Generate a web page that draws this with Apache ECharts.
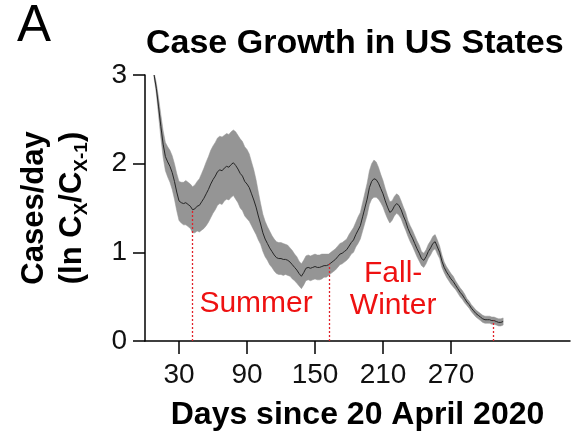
<!DOCTYPE html>
<html>
<head>
<meta charset="utf-8">
<script src="https://cdn.jsdelivr.net/npm/echarts@6/dist/echarts.min.js"></script>
<style>
  html, body { margin: 0; padding: 0; background: #fff; }
  #main { width: 575px; height: 437px; }
</style>
</head>
<body>
<div id="main"></div>
<script>
// days since 20 April 2020
var days = [8, 10, 12, 14, 16, 18, 20, 22, 24, 26, 28, 30, 32, 34, 36, 38, 40, 42, 44, 46, 48, 50,
  52, 54, 56, 58, 60, 62, 64, 66, 68, 70, 72, 74, 76, 78, 80, 82, 84, 86, 88, 90, 92, 94, 96, 98,
  100, 102, 104, 106, 108, 110, 112, 114, 116, 118, 120, 122, 124, 126, 128, 130, 132, 134, 136, 138,
  140, 142, 144, 146, 148, 150, 152, 154, 156, 158, 160, 162, 164, 166, 168, 170, 172, 174, 176, 178,
  180, 182, 184, 186, 188, 190, 192, 194, 196, 198, 200, 202, 204, 206, 208, 210, 212, 214, 216, 218,
  220, 222, 224, 226, 228, 230, 232, 234, 236, 238, 240, 242, 244, 246, 248, 250, 252, 254, 256, 258,
  260, 262, 264, 266, 268, 270, 272, 274, 276, 278, 280, 282, 284, 286, 288, 290, 292, 294, 296, 298,
  300, 302, 304, 306, 308, 310, 312, 314, 316];
// mean growth rate
var meanRate = [3.00, 2.85, 2.64, 2.42, 2.22, 2.08, 2.02, 1.97, 1.90, 1.80, 1.68, 1.58, 1.56, 1.55, 1.56, 1.54, 1.52, 1.48, 1.49, 1.52, 1.53, 1.57,
  1.61, 1.66, 1.71, 1.77, 1.82, 1.86, 1.91, 1.93, 1.92, 1.95, 1.97, 1.96, 1.99, 2.01, 1.98, 1.94, 1.89, 1.86, 1.80, 1.77, 1.73, 1.66, 1.59, 1.51,
  1.41, 1.32, 1.22, 1.15, 1.10, 1.05, 1.01, 0.97, 0.94, 0.93, 0.93, 0.92, 0.92, 0.91, 0.89, 0.86, 0.83, 0.80, 0.76, 0.73,
  0.77, 0.82, 0.83, 0.82, 0.83, 0.84, 0.83, 0.83, 0.84, 0.85, 0.85, 0.86, 0.88, 0.90, 0.92, 0.95, 0.98, 0.99, 1.01, 1.03,
  1.07, 1.11, 1.14, 1.20, 1.25, 1.30, 1.40, 1.50, 1.60, 1.73, 1.80, 1.83, 1.82, 1.78, 1.72, 1.66, 1.58, 1.51, 1.45, 1.47,
  1.52, 1.55, 1.53, 1.48, 1.41, 1.35, 1.27, 1.21, 1.16, 1.10, 1.04, 0.99, 0.93, 0.91, 0.95, 1.01, 1.05, 1.10, 1.12, 1.06,
  1.00, 0.90, 0.83, 0.78, 0.74, 0.70, 0.67, 0.63, 0.59, 0.55, 0.52, 0.48, 0.44, 0.41, 0.37, 0.34, 0.31, 0.29, 0.27, 0.25,
  0.24, 0.24, 0.24, 0.23, 0.23, 0.22, 0.21, 0.21, 0.22];
// half width of the shaded band
var spread = [0.03, 0.06, 0.10, 0.13, 0.15, 0.16, 0.17, 0.18, 0.19, 0.20, 0.21, 0.22, 0.23, 0.24, 0.25, 0.25, 0.25, 0.26, 0.27, 0.28, 0.30, 0.32,
  0.34, 0.36, 0.37, 0.38, 0.38, 0.38, 0.38, 0.38, 0.38, 0.37, 0.37, 0.37, 0.37, 0.37, 0.38, 0.38, 0.39, 0.39, 0.39, 0.39, 0.38, 0.36, 0.34, 0.31,
  0.27, 0.23, 0.21, 0.20, 0.19, 0.19, 0.18, 0.18, 0.18, 0.18, 0.18, 0.18, 0.17, 0.17, 0.16, 0.16, 0.15, 0.15, 0.14, 0.14,
  0.14, 0.14, 0.14, 0.14, 0.14, 0.14, 0.14, 0.14, 0.14, 0.13, 0.13, 0.12, 0.12, 0.12, 0.12, 0.12, 0.12, 0.12, 0.12, 0.12,
  0.13, 0.13, 0.14, 0.14, 0.15, 0.15, 0.16, 0.17, 0.18, 0.19, 0.20, 0.21, 0.20, 0.18, 0.16, 0.15, 0.14, 0.13, 0.12, 0.11,
  0.11, 0.11, 0.11, 0.10, 0.10, 0.10, 0.09, 0.09, 0.09, 0.09, 0.09, 0.09, 0.08, 0.08, 0.08, 0.08, 0.08, 0.08, 0.08, 0.08,
  0.07, 0.07, 0.06, 0.06, 0.06, 0.06, 0.06, 0.05, 0.05, 0.05, 0.05, 0.05, 0.04, 0.04, 0.04, 0.04, 0.04, 0.04, 0.04, 0.04,
  0.04, 0.04, 0.04, 0.04, 0.04, 0.04, 0.04, 0.04, 0.04];

var xTicks = [30, 90, 150, 210, 270];
// season boundaries (dotted red lines)
var seasonDays = [42, 163, 307];
var seasonTops = [1.48, 0.87, 0.23];
// season labels
var labelTexts = ['Summer', 'Fall-\nWinter'];
var labelDays = [98, 219];
var labelVals = [0.42, 0.575];

var myChart = echarts.init(document.getElementById('main'));

var bandData = [], meanData = [];
for (var i = 0; i < days.length; i++) {
  bandData.push([days[i], meanRate[i] - spread[i], meanRate[i] + spread[i]]);
  meanData.push([days[i], meanRate[i]]);
}
var markLines = [];
for (var j = 0; j < seasonDays.length; j++) {
  markLines.push([{ coord: [seasonDays[j], 0] }, { coord: [seasonDays[j], seasonTops[j]] }]);
}
var labelData = [];
for (var k = 0; k < labelTexts.length; k++) {
  labelData.push({ name: labelTexts[k], value: [labelDays[k], labelVals[k]] });
}

var font = 'Liberation Sans, Arial, sans-serif';

// band polygon: upper edge forward, lower edge back
function renderBand(params, api) {
  if (params.dataIndex !== 0) return;
  var pts = [];
  for (var a = 0; a < bandData.length; a++) {
    pts.push(api.coord([bandData[a][0], bandData[a][2]]));
  }
  for (var b = bandData.length - 1; b >= 0; b--) {
    pts.push(api.coord([bandData[b][0], bandData[b][1]]));
  }
  return {
    type: 'polygon',
    shape: { points: pts },
    style: { fill: '#959595', stroke: '#959595', lineWidth: 0.5 }
  };
}

option = {
  animation: false,
  backgroundColor: '#fff',
  title: [{
    text: 'Case Growth in US States',
    left: 141,
    top: 22,
    textStyle: { fontFamily: font, fontSize: 34, fontWeight: 'bold', color: '#000' }
  }, {
    text: 'A',
    left: 12,
    top: -4,
    textStyle: { fontFamily: font, fontSize: 51, fontWeight: 'normal', color: '#000' }
  }],
  grid: { left: 145, right: 5, top: 75, bottom: 96 },
  xAxis: {
    type: 'value',
    min: 0,
    max: 375,
    name: 'Days since 20 April 2020',
    nameLocation: 'middle',
    nameGap: 58,
    nameTextStyle: { fontFamily: font, fontSize: 32, fontWeight: 'bold', color: '#000' },
    axisLine: { show: true, lineStyle: { color: '#000', width: 1.5 } },
    axisTick: { show: true, customValues: xTicks, length: 13, lineStyle: { color: '#000', width: 1.5 } },
    axisLabel: { customValues: xTicks, fontFamily: font, fontSize: 28, color: '#111', margin: 20 },
    splitLine: { show: false }
  },
  yAxis: {
    type: 'value',
    min: 0,
    max: 3,
    interval: 1,
    name: '{a|Cases/day}\n{a|(ln C}{s|X}{a|/C}{s|X-1}{a|)}',
    nameLocation: 'middle',
    nameRotate: 90,
    nameGap: 54,
    nameTextStyle: {
      fontFamily: font, color: '#000',
      rich: {
        a: { fontFamily: font, fontSize: 31, fontWeight: 'bold', color: '#000', lineHeight: 38 },
        s: { fontFamily: font, fontSize: 19, fontWeight: 'bold', color: '#000', lineHeight: 20, verticalAlign: 'bottom', padding: [12, 0, 0, 0] }
      }
    },
    axisLine: { show: true, lineStyle: { color: '#000', width: 1.5 } },
    axisTick: { show: true, length: 12, lineStyle: { color: '#000', width: 1.5 } },
    axisLabel: { fontFamily: font, fontSize: 28, color: '#111', margin: 18 },
    splitLine: { show: false }
  },
  series: [{
    name: 'band',
    type: 'custom',
    data: bandData,
    renderItem: renderBand,
    silent: true,
    clip: true,
    encode: { x: 0, y: [1, 2] },
    z: 1
  }, {
    name: 'mean',
    type: 'line',
    data: meanData,
    showSymbol: false,
    lineStyle: { color: '#262626', width: 1 },
    silent: true,
    z: 3,
    markLine: {
      silent: true,
      symbol: 'none',
      label: { show: false },
      lineStyle: { color: '#e0222a', width: 1.3, type: [2, 2], opacity: 1 },
      emphasis: { disabled: true },
      data: markLines
    }
  }, {
    name: 'seasons',
    type: 'scatter',
    symbolSize: 0,
    data: labelData,
    silent: true,
    z: 4,
    label: {
      show: true,
      position: 'inside',
      formatter: '{b}',
      fontFamily: font,
      fontSize: 30,
      lineHeight: 32,
      align: 'center',
      color: '#ee1111',
      opacity: 1
    }
  }]
};
myChart.setOption(option);
</script>
</body>
</html>
